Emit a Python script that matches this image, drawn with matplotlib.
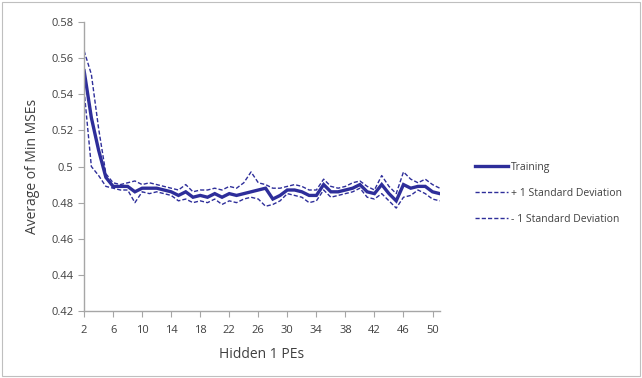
import matplotlib
matplotlib.use("Agg")
import matplotlib.pyplot as plt
from matplotlib.patches import Rectangle

hidden_pes = list(range(2, 52))
training = [0.553, 0.527, 0.509, 0.494, 0.489, 0.489, 0.489, 0.486, 0.488, 0.488,
            0.488, 0.487, 0.486, 0.484, 0.486, 0.483, 0.484, 0.483, 0.485, 0.483,
            0.485, 0.484, 0.485, 0.486, 0.487, 0.488, 0.482, 0.484, 0.487, 0.487,
            0.486, 0.484, 0.484, 0.490, 0.486, 0.486, 0.487, 0.488, 0.490, 0.486,
            0.485, 0.490, 0.485, 0.481, 0.490, 0.488, 0.489, 0.489, 0.486, 0.485]
plus_sd = [0.564, 0.551, 0.521, 0.496, 0.491, 0.490, 0.491, 0.492, 0.490, 0.491,
           0.490, 0.489, 0.488, 0.487, 0.490, 0.486, 0.487, 0.487, 0.488, 0.487,
           0.489, 0.488, 0.491, 0.497, 0.491, 0.490, 0.488, 0.488, 0.489, 0.490,
           0.489, 0.487, 0.487, 0.493, 0.489, 0.488, 0.489, 0.491, 0.492, 0.489,
           0.487, 0.495, 0.489, 0.485, 0.497, 0.493, 0.491, 0.493, 0.490, 0.488]
minus_sd = [0.542, 0.500, 0.495, 0.489, 0.488, 0.487, 0.487, 0.480, 0.486, 0.485,
            0.486, 0.485, 0.484, 0.481, 0.482, 0.480, 0.481, 0.480, 0.482, 0.479,
            0.481, 0.480, 0.482, 0.483, 0.482, 0.478, 0.479, 0.481, 0.485, 0.484,
            0.483, 0.480, 0.481, 0.487, 0.483, 0.484, 0.485, 0.486, 0.488, 0.483,
            0.482, 0.485, 0.481, 0.477, 0.483, 0.484, 0.487, 0.485, 0.482, 0.481]
x_ticks = list(range(2, 51, 4))
y_ticks = [0.42, 0.44, 0.46, 0.48, 0.50, 0.52, 0.54, 0.56, 0.58]

plt.rcParams['font.family'] = ['Open Sans', 'DejaVu Sans']
color = '#2E2E9A'

fig = plt.figure(figsize=(6.42, 3.78), dpi=100)
fig.patches.append(Rectangle((0.003, 0.005), 0.994, 0.99, transform=fig.transFigure,
                             fill=False, edgecolor='#BFBFBF', linewidth=0.8))
ax = fig.add_axes([0.131, 0.177, 0.554, 0.765])

ax.plot(hidden_pes, training, color=color, linewidth=2.4, label='Training',
        solid_joinstyle='miter')
ax.plot(hidden_pes, plus_sd, color=color, linewidth=1.0, linestyle=(0, (3, 1.5)),
        label='+ 1 Standard Deviation')
ax.plot(hidden_pes, minus_sd, color=color, linewidth=1.0, linestyle=(0, (3, 1.5)),
        label='- 1 Standard Deviation')

ax.set_xlim(2, 51)
ax.set_ylim(0.42, 0.58)
ax.set_xticks(x_ticks)
ax.set_yticks(y_ticks)
ax.set_yticklabels([f"{v:g}" for v in y_ticks])
for s in ['top', 'right']:
    ax.spines[s].set_visible(False)
for s in ['left', 'bottom']:
    ax.spines[s].set_color('#A6A6A6')
    ax.spines[s].set_linewidth(1.0)
ax.tick_params(axis='both', colors='#A6A6A6', labelcolor='#404040', labelsize=8,
               length=4, direction='out')
ax.tick_params(axis='x', pad=6)
ax.set_xlabel('Hidden 1 PEs', fontsize=10, color='#404040', labelpad=8)
ax.set_ylabel('Average of Min MSEs', fontsize=10, color='#404040', labelpad=8)

leg = fig.legend(*ax.get_legend_handles_labels(), loc='center left',
                 bbox_to_anchor=(0.725, 0.488), frameon=False,
                 fontsize=7.5, handlelength=3.2, labelspacing=1.45, handletextpad=0.3)
for t in leg.get_texts():
    t.set_color('#404040')

fig.savefig('out.png', dpi=100)
